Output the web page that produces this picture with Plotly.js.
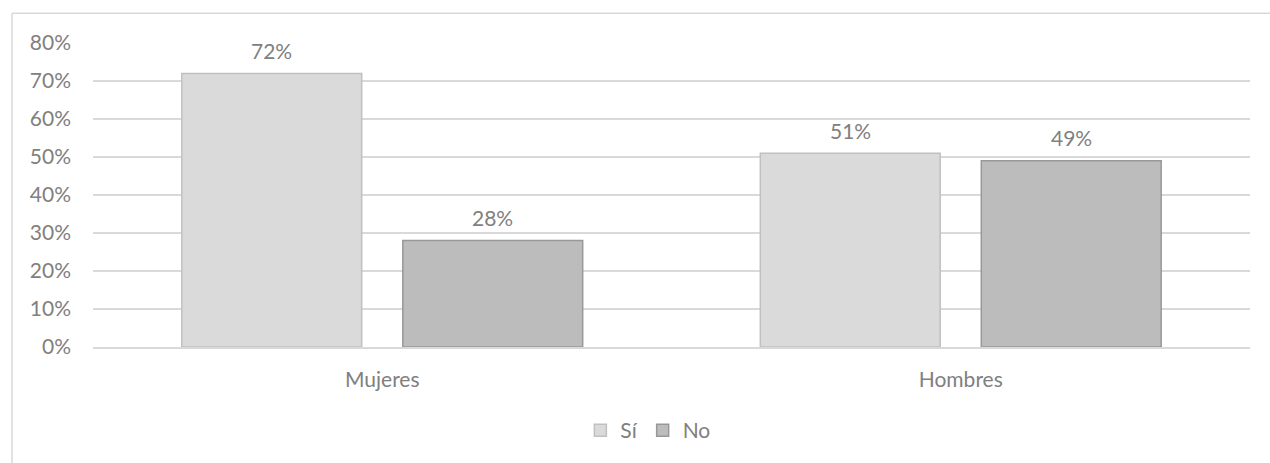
<!DOCTYPE html>
<html>
<head>
<meta charset="utf-8">
<script src="https://cdn.plot.ly/plotly-3.0.1.min.js"></script>
<style>
  html, body { margin: 0; padding: 0; background: #ffffff; }
  #chart { width: 1270px; height: 463px; }
</style>
</head>
<body>
<div id="chart"></div>
<script>
const categories = ["Mujeres", "Hombres"];
const seriesNames = ["Sí", "No"];
const siValues = [0.72, 0.51];
const noValues = [0.28, 0.49];
const yTickValues = [0, 0.1, 0.2, 0.3, 0.4, 0.5, 0.6, 0.7, 0.8];
const yTickLabels = ["0%", "10%", "20%", "30%", "40%", "50%", "60%", "70%", "80%"];

const textColor = "#808080";
const fontFamily = "Lato, 'Noto Sans', sans-serif";
const fontSize = 21;

const traces = [
  {
    type: "bar", name: seriesNames[0], x: categories, y: siValues,
    marker: { color: "#dadada", line: { color: "#c0c0c0", width: 1.5 } },
    hoverinfo: "none"
  },
  {
    type: "bar", name: seriesNames[1], x: categories, y: noValues,
    marker: { color: "#bcbcbc", line: { color: "#989898", width: 1.5 } },
    hoverinfo: "none"
  }
];

// data labels as annotations placed at each bar's value
const slotOffset = 110.5;
const annotations = [];
[siValues, noValues].forEach((vals, si) => {
  vals.forEach((v, i) => {
    annotations.push({
      x: categories[i], y: v, xref: "x", yref: "y",
      text: Math.round(v * 100) + "%",
      showarrow: false, yanchor: "middle",
      xshift: si === 0 ? -slotOffset : slotOffset,
      yshift: 23,
      font: { family: fontFamily, size: fontSize, color: textColor }
    });
  });
});

const layout = {
  width: 1270, height: 463,
  paper_bgcolor: "#ffffff", plot_bgcolor: "#ffffff",
  margin: { l: 93, r: 20, t: 43, b: 114 },
  barmode: "group", bargap: 0.236, bargroupgap: 0.186,
  font: { family: fontFamily, size: fontSize, color: textColor },
  showlegend: true,
  legend: {
    orientation: "h", x: 0.48, xanchor: "center", y: -0.275, yanchor: "middle",
    font: { family: fontFamily, size: fontSize, color: textColor },
    itemwidth: 30, traceorder: "normal"
  },
  xaxis: {
    showgrid: false, zeroline: false, showline: true,
    linecolor: "#d9d9d9", linewidth: 1.5, ticks: "",
    ticklabelstandoff: 13,
    tickfont: { family: fontFamily, size: fontSize, color: textColor },
    fixedrange: true
  },
  yaxis: {
    range: [0, 0.8], tickvals: yTickValues, ticktext: yTickLabels,
    showgrid: true, gridcolor: "#d9d9d9", gridwidth: 1.3,
    zeroline: false, showline: false, ticks: "",
    ticklabelstandoff: 21,
    tickfont: { family: fontFamily, size: fontSize, color: textColor },
    fixedrange: true
  },
  annotations: annotations,
  shapes: [
    { type: "line", xref: "paper", yref: "paper",
      x0: (12 - 93) / 1157, x1: (1275 - 93) / 1157,
      y0: (349 - 13) / 306, y1: (349 - 13) / 306,
      line: { color: "#d9d9d9", width: 1.5 } },
    { type: "line", xref: "paper", yref: "paper",
      x0: (12 - 93) / 1157, x1: (12 - 93) / 1157,
      y0: (349 - 13) / 306, y1: (349 - 470) / 306,
      line: { color: "#d9d9d9", width: 1.5 } }
  ]
};

Plotly.newPlot("chart", traces, layout, { staticPlot: true, displayModeBar: false });
</script>
</body>
</html>
